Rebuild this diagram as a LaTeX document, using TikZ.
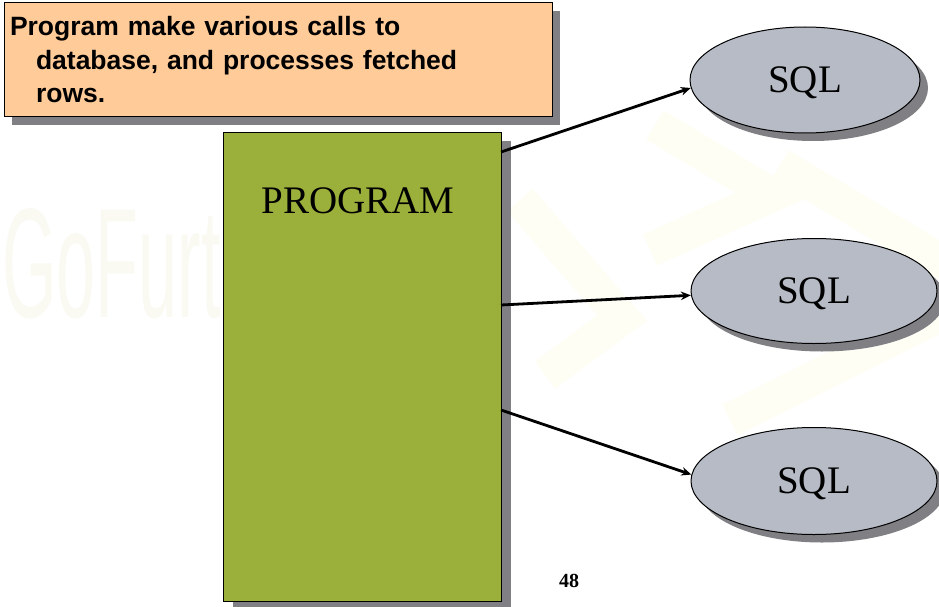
\documentclass[tikz,border=0pt]{standalone}
\usepackage{fontspec}
\setmainfont{Liberation Serif}
\newfontfamily\arialfont{Liberation Sans}
\newfontfamily\wmfont[FakeStretch=0.45]{Liberation Sans}
\usetikzlibrary{shapes.geometric,shadows,arrows.meta}
\definecolor{calloutfill}{RGB}{255,204,153}
\definecolor{progfill}{RGB}{155,175,59}
\definecolor{sqlfill}{RGB}{182,187,197}
\definecolor{shadowgray}{RGB}{128,128,132}
\definecolor{wmcolor}{RGB}{250,250,243}
\definecolor{chevcolor}{RGB}{254,254,245}
\begin{document}
\begin{tikzpicture}[x=1pt,y=-1pt,
  shadowed/.style={drop shadow={shadow xshift=8pt, shadow yshift=-8pt, fill=shadowgray, opacity=1}},
  callout/.style={rectangle, draw=black, line width=1pt, fill=calloutfill, shadowed,
    minimum width=548pt, minimum height=114pt, inner sep=0pt, text width=536pt, align=left,
    font=\arialfont\bfseries\fontsize{26.5}{33.5}\selectfont},
  progbox/.style={rectangle, draw=black, line width=1pt, fill=progfill,
    drop shadow={shadow xshift=10pt, shadow yshift=-8pt, fill=shadowgray, opacity=1},
    minimum width=278pt, minimum height=468pt, inner sep=0pt},
  title/.style={font=\fontsize{39}{39}\selectfont, inner sep=0pt},
  sqlnode/.style={ellipse, draw=black, line width=1pt, fill=sqlfill, shadowed,
    inner sep=0pt, text depth=0pt, font=\fontsize{39}{39}\selectfont},
  arr/.style={line width=2.8pt, -{Stealth[length=10pt,width=8.5pt]}},
  chev/.style={draw=chevcolor, line width=34pt, line join=miter},
  wm/.style={font=\wmfont\fontsize{156}{156}\selectfont, text=wmcolor, inner sep=0pt, anchor=base west},
  pagenum/.style={font=\bfseries\fontsize{20}{20}\selectfont, inner sep=0pt}
]
\fill[white] (0,0) rectangle (939,607);
\useasboundingbox (0,0) rectangle (939,607);

% faint watermark
\node[wm] (wmtext) at (2,317) {GoFurt};
\draw[chev] (520,200) -- (622,318) -- (545,375);
\draw[chev] (655,125) -- (772,195) -- (650,250);
\draw[chev] (780,165) -- (990,290) -- (730,420);

% nodes
\node[callout] (note) at (278,60) {Program make various calls to\\\hspace*{26pt}database, and processes fetched\\\hspace*{26pt}rows.};
\node[progbox] (prog) at (362,367) {};
\node[title] (progtitle) at (358,201) {PROGRAM};
\node[sqlnode, minimum width=230pt, minimum height=106pt] (sql1) at (805,80) {SQL};
\node[sqlnode, minimum width=246pt, minimum height=105pt] (sql2) at (814,291) {SQL};
\node[sqlnode, minimum width=246pt, minimum height=107pt] (sql3) at (814,481) {SQL};
\node[pagenum] (page) at (569,581) {48};

% connectors
\coordinate (o1) at (501,152);
\coordinate (o2) at (501,305);
\coordinate (o3) at (501,410);
\draw[arr] (o1) -- (sql1.184);
\draw[arr] (o2) -- (sql2.182);
\draw[arr] (o3) -- (sql3.177);
\end{tikzpicture}
\end{document}
